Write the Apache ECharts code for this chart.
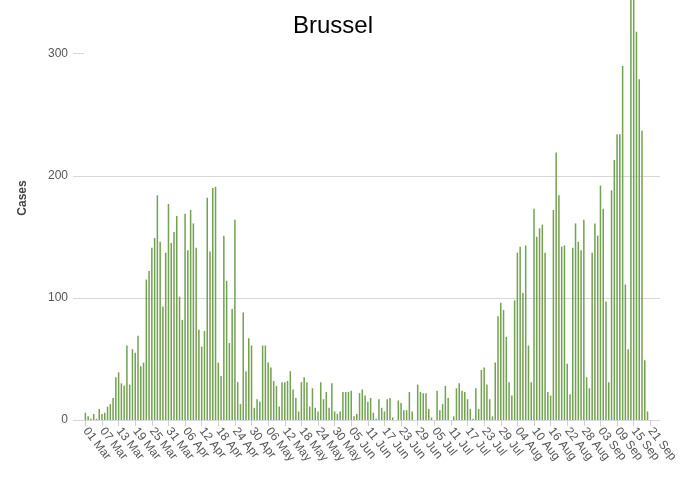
<!DOCTYPE html>
<html>
<head>
<meta charset="utf-8">
<script src="https://cdn.jsdelivr.net/npm/echarts@6/dist/echarts.min.js"></script>
<style>html,body{margin:0;padding:0;background:#fff}#c{width:692px;height:483px}</style>
</head>
<body>
<div id="c"></div>
<script>
// Daily cases, Brussel, starting 01 Mar
var startDate = [2020, 2, 1];
var dayCount = 208;
var cases = [
  6, 3, 1, 5, 1, 9, 5, 6, 11, 13, 18, 35, 39, 30, 28, 61, 29, 58, 55, 69,
  44, 47, 115, 122, 141, 149, 184, 146, 93, 137, 177, 145, 154, 167, 101, 82, 169, 139, 172, 161,
  141, 74, 60, 73, 182, 138, 190, 191, 47, 36, 151, 114, 63, 91, 164, 31, 13, 88, 40, 67,
  61, 10, 17, 15, 61, 61, 47, 43, 32, 28, 11, 31, 31, 32, 40, 25, 18, 7, 31, 35,
  31, 11, 26, 10, 7, 31, 17, 23, 10, 30, 7, 5, 7, 23, 23, 23, 24, 3, 5, 22,
  25, 20, 15, 18, 6, 1, 17, 10, 7, 17, 18, 2, 0, 16, 14, 8, 8, 23, 7, 0,
  29, 23, 22, 22, 9, 2, 0, 24, 8, 13, 28, 18, 0, 3, 26, 30, 24, 23, 17, 9,
  1, 26, 9, 41, 43, 29, 17, 3, 47, 85, 96, 90, 68, 31, 20, 98, 137, 142, 104, 143,
  61, 31, 173, 150, 157, 160, 137, 23, 20, 172, 219, 184, 142, 143, 46, 21, 141, 161, 146, 139,
  164, 35, 26, 137, 161, 151, 192, 173, 97, 31, 188, 213, 234, 234, 290, 111, 58, 370, 352, 318,
  279, 237, 49, 7
];
var monthNames = ['Jan','Feb','Mar','Apr','May','Jun','Jul','Aug','Sep','Oct','Nov','Dec'];
var yTicks = [0, 100, 200, 300];

var categories = [];
for (var i = 0; i < dayCount; i++) {
  var d = new Date(Date.UTC(startDate[0], startDate[1], startDate[2] + i));
  var dd = d.getUTCDate();
  categories.push((dd < 10 ? '0' : '') + dd + ' ' + monthNames[d.getUTCMonth()]);
}

var chart = echarts.init(document.getElementById('c'));
chart.setOption({
  animation: false,
  title: {
    text: 'Brussel',
    left: 328, top: 9, textAlign: 'center',
    textStyle: {fontFamily: 'Liberation Sans, Arial', fontSize: 24, fontWeight: 'normal', color: '#000'}
  },
  grid: {left: 84, right: 32, top: 0, bottom: 63},
  xAxis: {
    type: 'category',
    data: categories,
    axisLine: {show: false},
    axisTick: {show: true, interval: 5, alignWithLabel: true, length: 6, lineStyle: {color: '#d0d0d0'}},
    axisLabel: {
      interval: 5, rotate: -52, margin: 9,
      fontFamily: 'Liberation Sans, Arial', fontSize: 12, color: '#555'
    }
  },
  yAxis: {
    type: 'value',
    min: 0, max: 344, interval: 100,
    name: 'Cases', nameLocation: 'middle', nameGap: 55,
    nameTextStyle: {fontFamily: 'Liberation Sans, Arial', fontSize: 12, fontWeight: 'bold', color: '#444', padding: [0, 0, 0, 24]},
    axisLine: {show: false},
    axisTick: {show: true, length: 11, customValues: yTicks, lineStyle: {color: '#d8d8d8'}},
    axisLabel: {
      margin: 16, fontFamily: 'Liberation Sans, Arial', fontSize: 12, color: '#555',
      customValues: yTicks,
      formatter: function (v) { return yTicks.indexOf(v) >= 0 ? String(v) : ''; }
    },
    splitLine: {showMaxLine: false, lineStyle: {color: '#d8d8d8'}}
  },
  series: [{
    type: 'bar',
    data: cases,
    barWidth: '55%',
    clip: false,
    itemStyle: {color: '#73a352'}
  }]
});
</script>
</body>
</html>
